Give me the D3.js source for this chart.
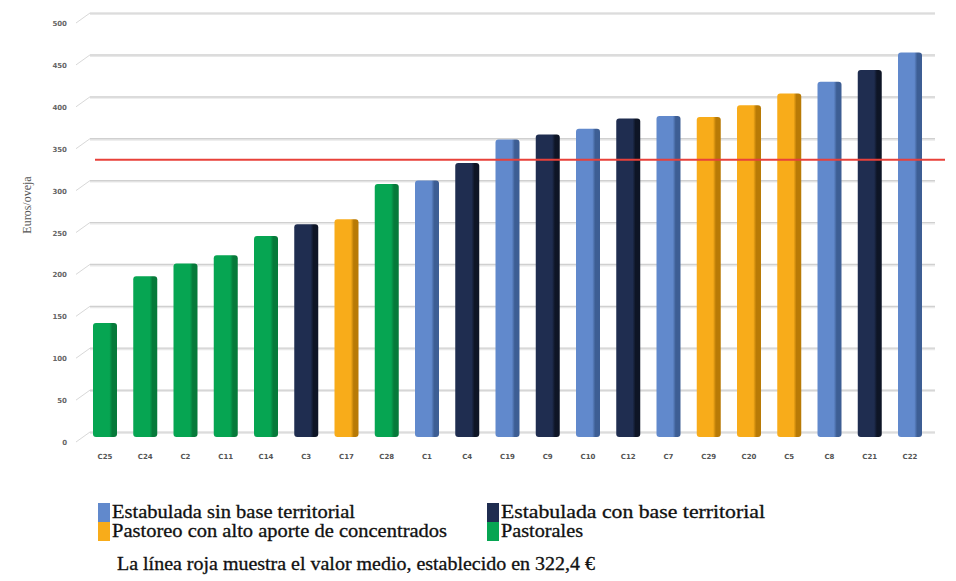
<!DOCTYPE html>
<html><head><meta charset="utf-8">
<script src="https://cdn.jsdelivr.net/npm/d3@7"></script>
<style>html,body{margin:0;padding:0;background:#fff;} svg{display:block;}</style>
</head><body>
<svg id="chart" width="956" height="581"></svg>
<script>
const categories = ["C25","C24","C2","C11","C14","C3","C17","C28","C1","C4","C19","C9","C10","C12","C7","C29","C20","C5","C8","C21","C22"];
const values = [130,186,201,211,234,248,254,296,300,321,349,355,362,374,377,376,390,404,418,432,453];
const barGroups = ["pas","pas","pas","pas","pas","con","alto","pas","sin","con","sin","con","sin","con","sin","alto","alto","alto","sin","con","sin"];
const groupKeys = ["sin","con","alto","pas"];
const groupNames = ["Estabulada sin base territorial","Estabulada con base territorial","Pastoreo con alto aporte de concentrados","Pastorales"];
const yTicks = [0,50,100,150,200,250,300,350,400,450,500];
const meanValue = 322.4;
const yTitle = "Euros/oveja";
const note = "La línea roja muestra el valor medio, establecido en 322,4 €";

const colors = {sin:"#6189cc", con:"#1f2d50", alto:"#f8ac1a", pas:"#06a552"};
const darks  = {sin:"#3d5e94", con:"#0e1526", alto:"#b87a06", pas:"#067a3a"};
const serif = "'Liberation Serif','Times New Roman','DejaVu Serif',serif";

const svg = d3.select("#chart");
const y = d3.scaleLinear().domain([0,500]).range([432,13]);
const x = d3.scalePoint().domain(categories).range([105,910]);
const barW = 24;

const defs = svg.append("defs");
groupKeys.forEach(k=>{
  const g = defs.append("linearGradient").attr("id","g_"+k).attr("x1","0").attr("x2","1").attr("y1","0").attr("y2","0");
  g.append("stop").attr("offset","0%").attr("stop-color",colors[k]);
  g.append("stop").attr("offset","68%").attr("stop-color",colors[k]);
  g.append("stop").attr("offset","80%").attr("stop-color",darks[k]);
  g.append("stop").attr("offset","100%").attr("stop-color",darks[k]);
});

// gridlines (back wall)
const grid = svg.append("g");
yTicks.forEach(t=>{
  grid.append("line").attr("x1",90).attr("x2",935).attr("y1",y(t)+1).attr("y2",y(t)+1)
    .attr("stroke","#e8e8e8").attr("stroke-width",2);
  grid.append("line").attr("x1",90).attr("x2",935).attr("y1",y(t)).attr("y2",y(t))
    .attr("stroke","#d0d0d0").attr("stroke-width",1.2);
  grid.append("line").attr("x1",76).attr("x2",90).attr("y1",y(t)+10).attr("y2",y(t))
    .attr("stroke","#d8d8d8").attr("stroke-width",1);
  grid.append("text").attr("x",67).attr("y",y(t)+13).attr("text-anchor","end")
    .attr("font-family","DejaVu Sans").attr("font-size",7).attr("font-weight","bold").attr("fill","#666").text(t);
});

// bars
svg.append("g").selectAll("rect").data(categories).join("rect")
  .attr("x",d=>x(d)-barW/2)
  .attr("y",(d,i)=>y(values[i]))
  .attr("width",barW)
  .attr("height",(d,i)=>y(0)+5-y(values[i]))
  .attr("rx",3)
  .attr("fill",(d,i)=>"url(#g_"+barGroups[i]+")");

// mean line
svg.append("line").attr("x1",95).attr("x2",945).attr("y1",y(meanValue)-2).attr("y2",y(meanValue)-2)
  .attr("stroke","#e8413a").attr("stroke-width",2);

// x labels
svg.append("g").selectAll("text").data(categories).join("text")
  .attr("x",d=>x(d)).attr("y",459).attr("text-anchor","middle")
  .attr("font-family","DejaVu Sans").attr("font-size",7).attr("font-weight","bold").attr("fill","#555")
  .text(d=>d);

// y title
svg.append("text").attr("transform","translate(31,205) rotate(-90)").attr("text-anchor","middle")
  .attr("font-family",serif).attr("font-size",12).attr("fill","#555").text(yTitle);

// legend
const leg = svg.append("g");
const legPos = [[98,503],[487,503],[98,522],[487,522]];
const legW = [243,264,335,82];
groupKeys.forEach((k,i)=>{
  const [lx,ly] = legPos[i];
  leg.append("rect").attr("x",lx).attr("y",ly).attr("width",12).attr("height",19).attr("fill",colors[k]);
  leg.append("text").attr("x",lx+14).attr("y",ly+15).attr("font-family",serif)
    .attr("font-size",18).attr("fill","#111").attr("stroke","#111").attr("stroke-width",0.3)
    .attr("textLength",legW[i]).attr("lengthAdjust","spacingAndGlyphs").text(groupNames[i]);
});
leg.append("text").attr("x",117).attr("y",570).attr("font-family",serif)
  .attr("font-size",18).attr("fill","#111").attr("stroke","#111").attr("stroke-width",0.3)
  .attr("textLength",478).attr("lengthAdjust","spacingAndGlyphs").text(note);
</script>
</body></html>
